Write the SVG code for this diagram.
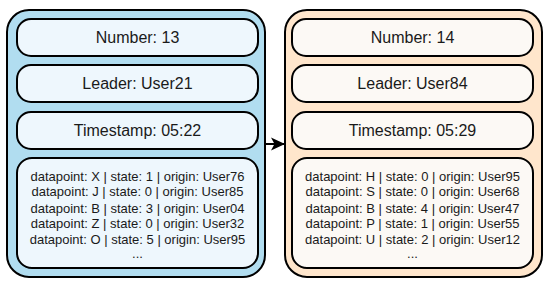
<svg xmlns="http://www.w3.org/2000/svg" width="550" height="284" viewBox="0 0 550 284">
<defs>
<style>
.outerA{fill:#b1ddf0;stroke:#000;stroke-width:2}
.outerB{fill:#ffe6cc;stroke:#000;stroke-width:2}
.innerA{fill:#eef7fd;stroke:#000;stroke-width:2}
.innerB{fill:#fcf9f5;stroke:#000;stroke-width:2}
.t{font-family:"Liberation Sans",Arial,sans-serif;font-size:16px;fill:#1a1a1a;text-anchor:middle}
.d{font-family:"Liberation Sans",Arial,sans-serif;font-size:13px;fill:#1a1a1a;text-anchor:middle}
</style>
<marker id="arr" viewBox="0 0 14 14" refX="13" refY="7" markerWidth="14" markerHeight="14" markerUnits="userSpaceOnUse" orient="auto">
<path d="M0,0.5 L14,7 L0,13.5 L3.5,7 Z" fill="#000"/>
</marker>
</defs>
<g id="block13">
<rect class="outerA" x="7" y="10" width="258" height="267" rx="22"/>
<g id="number13"><rect class="innerA" x="17" y="19" width="241" height="37" rx="14"/><text class="t" x="137.5" y="43">Number: 13</text></g>
<g id="leader13"><rect class="innerA" x="17" y="65" width="241" height="37" rx="14"/><text class="t" x="137.5" y="89">Leader: User21</text></g>
<g id="timestamp13"><rect class="innerA" x="17" y="112" width="241" height="37" rx="14"/><text class="t" x="137.5" y="136">Timestamp: 05:22</text></g>
<g id="data13"><rect class="innerA" x="17" y="158" width="241" height="110" rx="15"/>
<text class="d" x="137.5" y="181">datapoint: X | state: 1 | origin: User76</text>
<text class="d" x="137.5" y="196">datapoint: J | state: 0 | origin: User85</text>
<text class="d" x="137.5" y="213">datapoint: B | state: 3 | origin: User04</text>
<text class="d" x="137.5" y="228">datapoint: Z | state: 0 | origin: User32</text>
<text class="d" x="137.5" y="244">datapoint: O | state: 5 | origin: User95</text>
<text class="d" x="137.5" y="258">...</text>
</g>
</g>
<g id="block14">
<rect class="outerB" x="285" y="10" width="257" height="267" rx="22"/>
<g id="number14"><rect class="innerB" x="292" y="19" width="241" height="37" rx="14"/><text class="t" x="412.5" y="43">Number: 14</text></g>
<g id="leader14"><rect class="innerB" x="292" y="65" width="241" height="37" rx="14"/><text class="t" x="412.5" y="89">Leader: User84</text></g>
<g id="timestamp14"><rect class="innerB" x="292" y="112" width="241" height="37" rx="14"/><text class="t" x="412.5" y="136">Timestamp: 05:29</text></g>
<g id="data14"><rect class="innerB" x="292" y="158" width="241" height="110" rx="15"/>
<text class="d" x="412.5" y="181">datapoint: H | state: 0 | origin: User95</text>
<text class="d" x="412.5" y="196">datapoint: S | state: 0 | origin: User68</text>
<text class="d" x="412.5" y="213">datapoint: B | state: 4 | origin: User47</text>
<text class="d" x="412.5" y="228">datapoint: P | state: 1 | origin: User55</text>
<text class="d" x="412.5" y="244">datapoint: U | state: 2 | origin: User12</text>
<text class="d" x="412.5" y="258">...</text>
</g>
</g>
<g id="connectors">
<line x1="266" y1="144" x2="284" y2="144" stroke="#000" stroke-width="2" marker-end="url(#arr)"/>
</g>
</svg>
